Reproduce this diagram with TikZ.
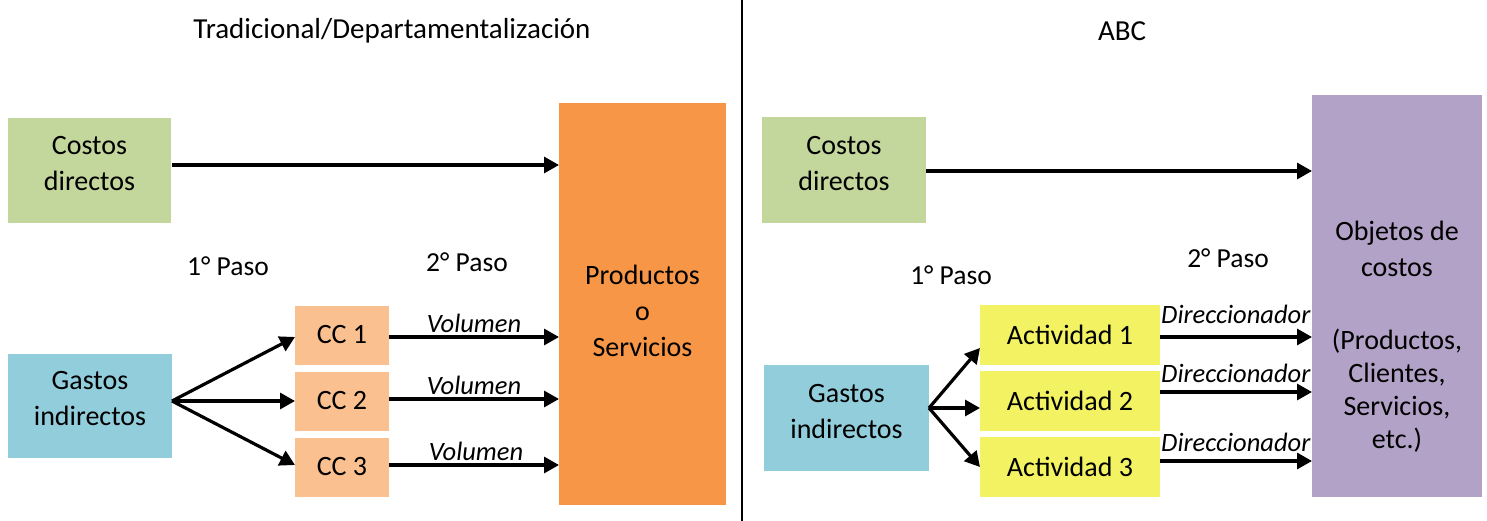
\documentclass[tikz,border=0pt]{standalone}
\usepackage{fontspec}
\setmainfont{Carlito}
\usetikzlibrary{arrows.meta}
\definecolor{cgreen}{HTML}{C3D69B}
\definecolor{cblue}{HTML}{92CDDC}
\definecolor{corange}{HTML}{F79646}
\definecolor{clorange}{HTML}{FAC090}
\definecolor{cyellow}{HTML}{F2F263}
\definecolor{cpurple}{HTML}{B2A2C7}
\tikzset{
  boxnode/.style={inner sep=0pt, outer sep=0pt, minimum width=#1},
  txt/.style={inner sep=0pt, align=center, font=\fontsize{28}{36}\selectfont},
  lbl/.style={inner sep=0pt, font=\fontsize{26.5}{30}\selectfont\itshape},
  steplbl/.style={inner sep=0pt, font=\fontsize{27.5}{32}\selectfont},
  ttl/.style={inner sep=0pt, font=\fontsize{29}{34}\selectfont},
  arr/.style={line width=3.2pt, -{Triangle[length=15pt,width=16pt]}},
}
\begin{document}
\begin{tikzpicture}[x=1pt,y=-1pt]
\useasboundingbox (0,0) rectangle (1487,521);
% divider
\draw[line width=2.3pt] (742,0) -- (742,521);
% titles
\node[ttl] (t1) at (392,31) {Tradicional/Departamentalización};
\node[ttl] (t2) at (1122,31) {ABC};

% ---------- left ----------
\node[boxnode=163pt, minimum height=105pt, fill=cgreen] (cdL) at (89.5,170.5) {};
\node[txt] (cdLt) at (89.5,164) {Costos\\directos};
\node[boxnode=167pt, minimum height=402pt, fill=corange] (prod) at (642.5,304) {};
\node[txt] (prodt) at (642.5,311) {Productos\\o\\Servicios};
\node[boxnode=164pt, minimum height=104pt, fill=cblue] (gaL) at (90,406) {};
\node[txt] (gaLt) at (90,399) {Gastos\\indirectos};
\node[boxnode=94pt, minimum height=59pt, fill=clorange] (cc1) at (342,335) {};
\node[boxnode=94pt, minimum height=59pt, fill=clorange] (cc2) at (342,401) {};
\node[boxnode=94pt, minimum height=59pt, fill=clorange] (cc3) at (342,467) {};
\node[txt] at (342,335) {CC 1};
\node[txt] at (342,401) {CC 2};
\node[txt] at (342,467) {CC 3};
\node[steplbl] (p1L) at (228,266) {1° Paso};
\node[steplbl] (p2L) at (467,262) {2° Paso};
\coordinate (oL) at (172,401);
\draw[arr] (172,165) -- (prod.west |- 0,165);
\draw[arr] (oL) -- (cc1.west |- 0,337);
\draw[arr] (oL) -- (cc2.west |- 0,401);
\draw[arr] (oL) -- (cc3.west |- 0,465);
\draw[arr] (cc1.east |- 0,337) -- (prod.west |- 0,337);
\draw[arr] (cc2.east |- 0,399) -- (prod.west |- 0,399);
\draw[arr] (cc3.east |- 0,465) -- (prod.west |- 0,465);
\node[lbl] at (474,323) {Volumen};
\node[lbl] at (474,385) {Volumen};
\node[lbl] at (476,451) {Volumen};

% ---------- right ----------
\node[boxnode=164pt, minimum height=106pt, fill=cgreen] (cdR) at (844,170) {};
\node[txt] (cdRt) at (844,164) {Costos\\directos};
\node[boxnode=165pt, minimum height=106pt, fill=cblue] (gaR) at (846.5,418) {};
\node[txt] (gaRt) at (846.5,412) {Gastos\\indirectos};
\node[boxnode=180pt, minimum height=60pt, fill=cyellow] (a1) at (1070,335) {};
\node[boxnode=180pt, minimum height=60pt, fill=cyellow] (a2) at (1070,401) {};
\node[boxnode=180pt, minimum height=60pt, fill=cyellow] (a3) at (1070,467) {};
\node[txt] at (1070,335) {Actividad 1};
\node[txt] at (1070,401) {Actividad 2};
\node[txt] at (1070,467) {Actividad 3};
\node[steplbl] (p1R) at (951,275) {1° Paso};
\node[steplbl] (p2R) at (1228,258) {2° Paso};
\node[lbl, anchor=west] at (1161,314) {Direccionador};
\node[lbl, anchor=west] at (1161,373) {Direccionador};
\node[lbl, anchor=west] at (1161,442) {Direccionador};
\node[boxnode=170pt, minimum height=402pt, fill=cpurple] (obj) at (1397,296) {};
\node[txt] (objt1) at (1397,249) {Objetos de\\costos};
\node[txt] (objt2) at (1397,391) {(Productos,\\[-3pt]Clientes,\\[-3pt]Servicios,\\[-3pt]etc.)};
\coordinate (oR) at (929,408);
\draw[arr] (cdR.east |- 0,171) -- (obj.west |- 0,171);
\draw[arr] (oR) -- (a1.west |- 0,348);
\draw[arr] (oR) -- (a2.west |- 0,408);
\draw[arr] (oR) -- (a3.west |- 0,467);
\draw[arr] (a1.east |- 0,337) -- (obj.west |- 0,337);
\draw[arr] (a2.east |- 0,392) -- (obj.west |- 0,392);
\draw[arr] (a3.east |- 0,461) -- (obj.west |- 0,461);
\end{tikzpicture}
\end{document}
